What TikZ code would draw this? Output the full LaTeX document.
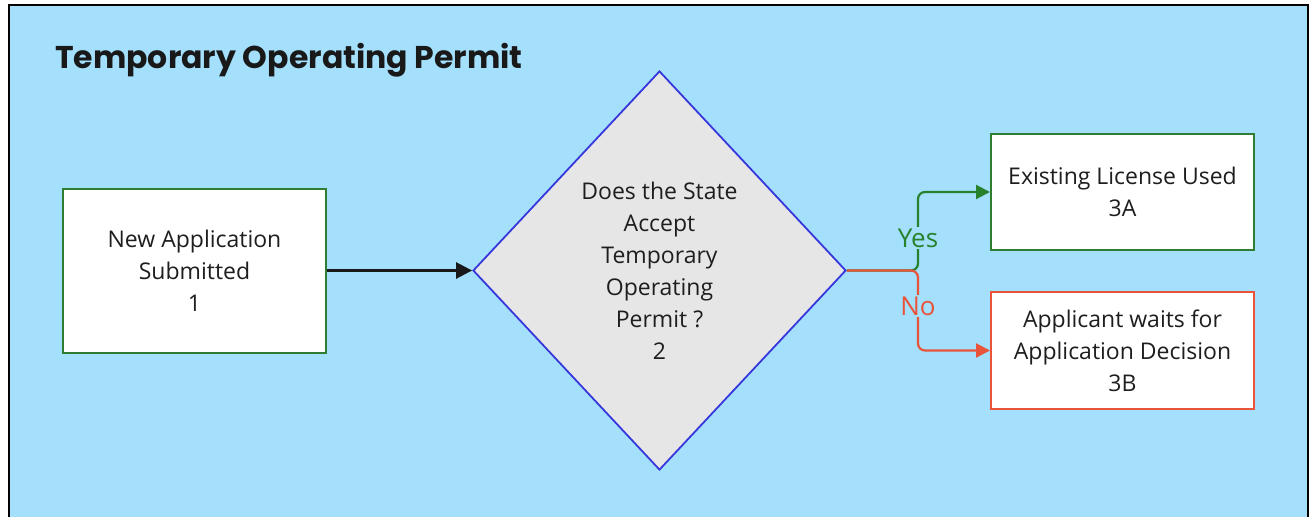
\documentclass[tikz,border=0pt]{standalone}
\usepackage{fontspec}
\setmainfont{Open Sans}
\newfontfamily\titlefont{Poppins}
\usetikzlibrary{shapes.geometric,arrows.meta}
\definecolor{skyback}{RGB}{164,224,252}
\definecolor{boxgreen}{RGB}{46,125,50}
\definecolor{yesgreen}{RGB}{40,130,45}
\definecolor{noorange}{RGB}{232,83,58}
\definecolor{diamondblue}{RGB}{55,55,220}
\definecolor{diamondfill}{RGB}{230,230,230}
\definecolor{textgray}{RGB}{30,30,30}
\tikzset{
  bodytext/.style={font=\fontsize{23}{32}\selectfont, text=textgray, align=center},
  stepbox/.style={draw, line width=2pt, fill=white, inner sep=0pt, bodytext},
  decision/.style={diamond, draw=diamondblue, line width=1.8pt, fill=diamondfill,
    inner sep=0pt, minimum width=373pt, minimum height=399pt, bodytext},
  flow/.style={line width=2.2pt, rounded corners=7pt,
    -{Triangle[length=14pt,width=14pt]}},
  branchlabel/.style={fill=skyback, inner sep=2pt, font=\fontsize{26}{30}\selectfont}
}
\begin{document}
\begin{tikzpicture}[x=1pt,y=-1pt]
  % page and framed panel
  \useasboundingbox (0,0) rectangle (1312,517);
  \fill[white] (0,0) rectangle (1312,517);
  \fill[skyback] (9,5) rectangle (1308,517);
  \draw[black, line width=2pt] (9,517) -- (9,5) -- (1308,5) -- (1308,517);

  % title
  \node[anchor=base west, inner sep=0pt, font=\titlefont\bfseries\fontsize{31.5}{36}\selectfont, text=black!90]
    (title) at (55,68) {Temporary Operating Permit};

  % process steps
  \node[stepbox, draw=boxgreen, minimum width=263pt, minimum height=164pt]
    (submit) at (194.5,270.5) {New Application\\Submitted\\1};
  \node[decision] (check) at (659.5,270.5)
    {Does the State\\Accept\\Temporary\\Operating\\Permit ?\\2};
  \node[stepbox, draw=boxgreen, minimum width=263pt, minimum height=116pt]
    (existing) at (1122.5,192) {Existing License Used\\3A};
  \node[stepbox, draw=noorange, minimum width=263pt, minimum height=117pt]
    (waits) at (1122.5,350.5) {Applicant waits for\\Application Decision\\3B};

  % branch point to the right of the decision
  \coordinate (split) at (918,270.5);

  % connectors
  \draw[flow, black!90, line width=2.6pt, rounded corners=0pt,
        -{Triangle[length=16pt,width=16pt]}] (submit.east) -- (check.west);
  \draw[flow, yesgreen] (check.east) -- (split) |- (existing.west);
  \draw[flow, noorange] (check.east) -- (split) |- (waits.west);

  % branch labels
  \node[branchlabel, text=yesgreen] (yes) at (918,238) {Yes};
  \node[branchlabel, text=noorange] (no) at (918,306) {No};
\end{tikzpicture}
\end{document}
